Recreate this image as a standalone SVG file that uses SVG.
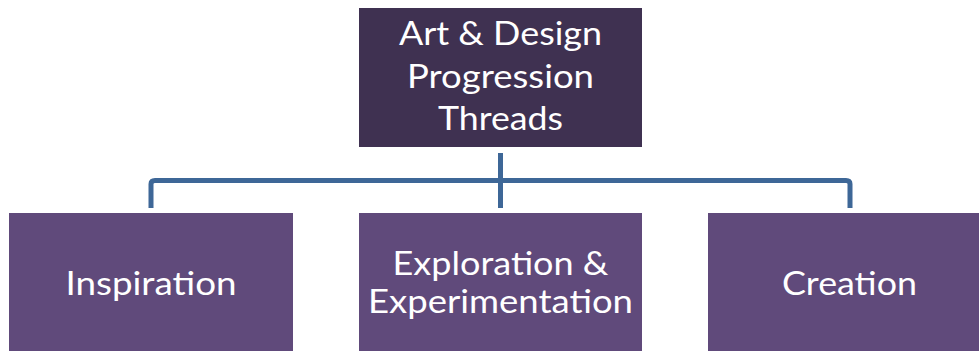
<svg xmlns="http://www.w3.org/2000/svg" width="979" height="351" viewBox="0 0 979 351">
<style>
.top{fill:#3F3151}
.box{fill:#604A7B}
.lbl{font-family:Lato,"Open Sans","Liberation Sans",sans-serif;font-size:32px;fill:#ffffff;text-anchor:middle}
.conn{fill:none;stroke:#3E6797;stroke-width:5}
</style>
<rect width="979" height="351" fill="#ffffff"/>
<g id="connectors">
<path class="conn" d="M500.5 153 V208"/>
<path class="conn" d="M151 208 V184 Q151 180.5 155 180.5 H846 Q850 180.5 850 184 V208"/>
</g>
<g id="node-root">
<rect class="top" x="359" y="8" width="283" height="139"/>
<text class="lbl" x="500.5" y="45" textLength="203" lengthAdjust="spacingAndGlyphs">Art &amp; Design</text>
<text class="lbl" x="500.5" y="88" textLength="187" lengthAdjust="spacingAndGlyphs">Progression</text>
<text class="lbl" x="500.5" y="130" textLength="125" lengthAdjust="spacingAndGlyphs">Threads</text>
</g>
<g id="node-inspiration">
<rect class="box" x="9" y="213" width="284" height="150"/>
<text class="lbl" x="151" y="295" textLength="171" lengthAdjust="spacingAndGlyphs">Inspiration</text>
</g>
<g id="node-exploration">
<rect class="box" x="359" y="213" width="283" height="150"/>
<text class="lbl" x="500.5" y="275" textLength="216" lengthAdjust="spacingAndGlyphs">Exploration &amp;</text>
<text class="lbl" x="500.5" y="313" textLength="265" lengthAdjust="spacingAndGlyphs">Experimentation</text>
</g>
<g id="node-creation">
<rect class="box" x="708" y="213" width="284" height="150"/>
<text class="lbl" x="849.5" y="295" textLength="135" lengthAdjust="spacingAndGlyphs">Creation</text>
</g>
</svg>
